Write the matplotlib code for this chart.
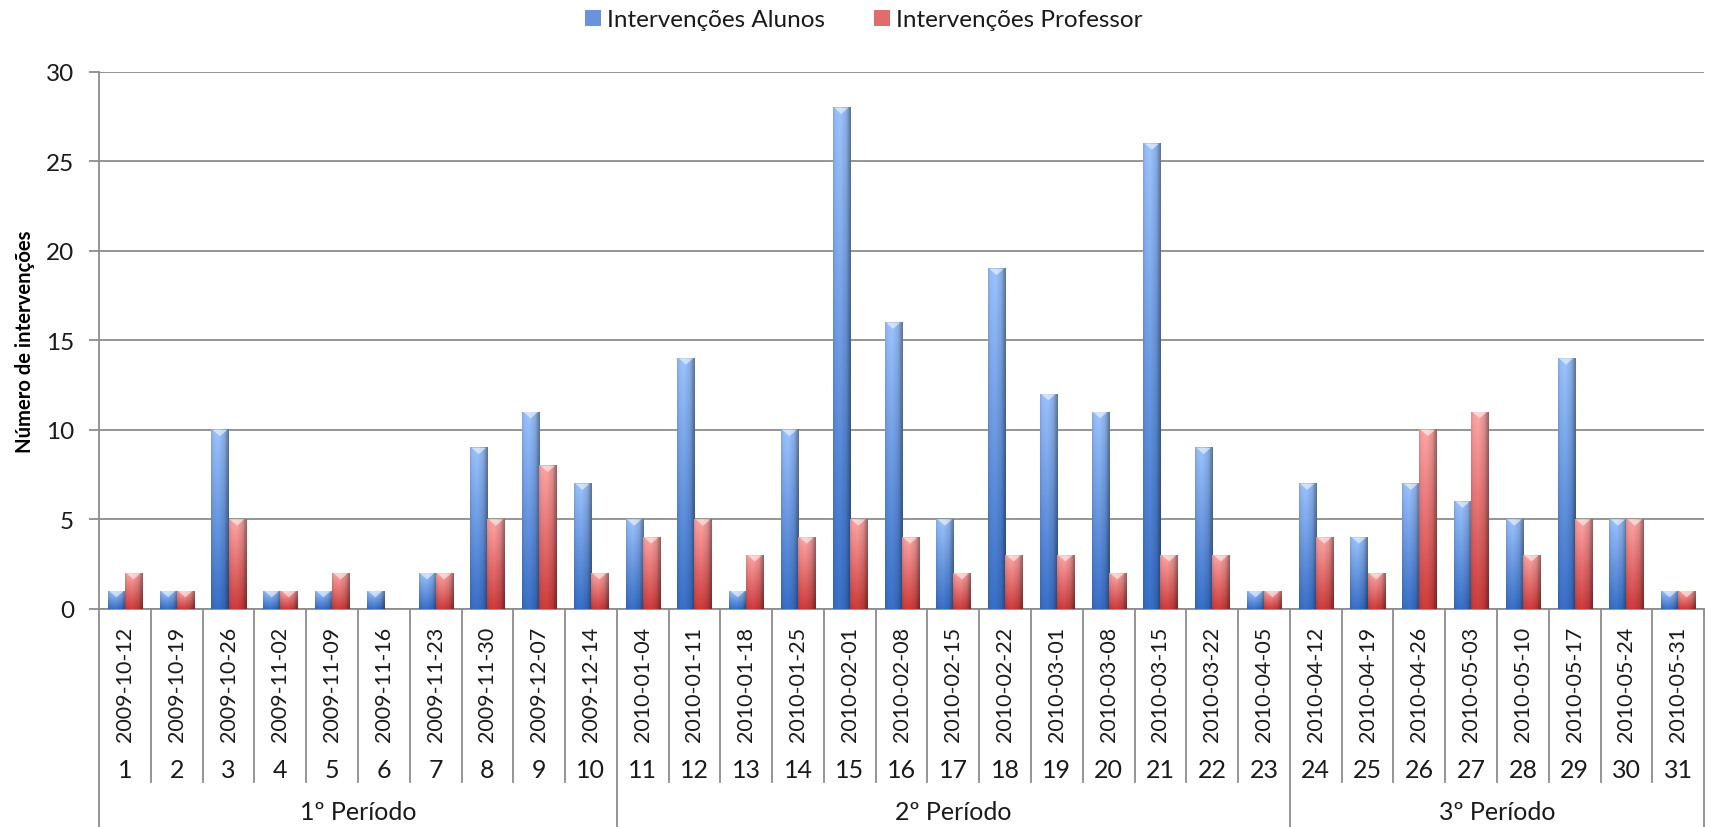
import matplotlib
matplotlib.use("Agg")
import matplotlib.pyplot as plt
from matplotlib.patches import Rectangle, Polygon
import matplotlib.transforms as mtrans
import numpy as np

# --- data ---
dates = ["2009-10-12", "2009-10-19", "2009-10-26", "2009-11-02", "2009-11-09",
         "2009-11-16", "2009-11-23", "2009-11-30", "2009-12-07", "2009-12-14",
         "2010-01-04", "2010-01-11", "2010-01-18", "2010-01-25", "2010-02-01",
         "2010-02-08", "2010-02-15", "2010-02-22", "2010-03-01", "2010-03-08",
         "2010-03-15", "2010-03-22", "2010-04-05", "2010-04-12", "2010-04-19",
         "2010-04-26", "2010-05-03", "2010-05-10", "2010-05-17", "2010-05-24",
         "2010-05-31"]
weeks = list(range(1, 32))
alunos = [1, 1, 10, 1, 1, 1, 2, 9, 11, 7, 5, 14, 1, 10, 28, 16, 5, 19, 12, 11,
          26, 9, 1, 7, 4, 7, 6, 5, 14, 5, 1]
professor = [2, 1, 5, 1, 2, 0, 2, 5, 8, 2, 4, 5, 3, 4, 5, 4, 2, 3, 3, 2,
             3, 3, 1, 4, 2, 10, 11, 3, 5, 5, 1]
periods = ["1º Período", "2º Período", "3º Período"]
period_sizes = [10, 13, 8]

FONT = "Lato"
GRID = "#8c8c8c"
TXT = "#1a1a1a"
plt.rcParams["font.family"] = [FONT, "DejaVu Sans"]

BLUE_TOP, BLUE_BOT = np.array([150, 188, 245]) / 255, np.array([55, 108, 194]) / 255
RED_TOP, RED_BOT = np.array([246, 160, 160]) / 255, np.array([200, 58, 58]) / 255


def shade(top, bot, nx=24, ny=80):
    y = np.linspace(0, 1, ny)[:, None]
    col = top[None, :] * (1 - y) + bot[None, :] * y
    x = np.linspace(0, 1, nx)
    hf = np.interp(x, [0, 0.12, 0.4, 0.75, 1.0], [0.9, 1.0, 1.04, 0.92, 0.62])
    return np.clip(col[:, None, :] * hf[None, :, None], 0, 1)


fig = plt.figure(figsize=(17.17, 8.28), dpi=100)
ax = fig.add_axes([0.0577, 0.2633, 0.9348, 0.6486])

x = np.arange(len(dates))
w = 0.33
b1 = ax.bar(x - w / 2, alunos, w, color=BLUE_BOT, zorder=2)
b2 = ax.bar(x + w / 2, professor, w, color=RED_BOT, zorder=2)

tri = 0.35
for bars, (top, bot) in ((b1, (BLUE_TOP, BLUE_BOT)), (b2, (RED_TOP, RED_BOT))):
    img = shade(top, bot)
    for p in bars:
        x0, h, bw = p.get_x(), p.get_height(), p.get_width()
        if h <= 0:
            continue
        ax.imshow(img, extent=(x0, x0 + bw, 0, h), origin="upper",
                  aspect="auto", interpolation="bilinear", zorder=3)
        t = min(tri, h * 0.5)
        ax.add_patch(Polygon([(x0 + bw * 0.08, h), (x0 + bw * 0.92, h),
                              (x0 + bw / 2, h - t)], closed=True,
                             facecolor="white", alpha=0.55, lw=0, zorder=4))

ax.set_xlim(-0.5, len(dates) - 0.5)
ax.set_ylim(0, 30)
ax.set_yticks(range(0, 31, 5))
ax.yaxis.grid(True, color=GRID, lw=1.3, zorder=0)
ax.set_axisbelow(True)
ax.set_xticks([])
ax.tick_params(axis="y", direction="out", length=7, width=1.3, color=GRID,
               labelsize=17.5, labelcolor=TXT, pad=11)
for s in ("top", "right"):
    ax.spines[s].set_visible(False)
for s in ("left", "bottom"):
    ax.spines[s].set_color(GRID)
    ax.spines[s].set_linewidth(1.3)
ax.set_ylabel("Número de intervenções", fontsize=14.6, fontweight="bold",
              labelpad=8, color="black")

# multi-level category axis
tr = mtrans.blended_transform_factory(ax.transData, ax.transAxes)
for i, (d, n) in enumerate(zip(dates, weeks)):
    ax.text(i, -0.032, d, rotation=90, ha="center", va="top", fontsize=15.5,
            transform=tr, color=TXT)
    ax.text(i, -0.298, str(n), ha="center", va="center", fontsize=18,
            transform=tr, color=TXT)

bounds = np.cumsum([0] + period_sizes) - 0.5
for i in range(len(dates) + 1):
    xb = i - 0.5
    low = -0.41 if xb in bounds else -0.322
    ax.plot([xb, xb], [0, low], transform=tr, color=GRID, lw=1.3,
            clip_on=False)
for k, name in enumerate(periods):
    ax.text((bounds[k] + bounds[k + 1]) / 2, -0.378, name, ha="center",
            va="center", fontsize=18, transform=tr, color=TXT)

handles = [Rectangle((0, 0), 1, 1, facecolor=BLUE_TOP * 0.5 + BLUE_BOT * 0.5),
           Rectangle((0, 0), 1, 1, facecolor=RED_TOP * 0.5 + RED_BOT * 0.5)]
fig.legend(handles, ["Intervenções Alunos", "Intervenções Professor"],
           loc="center", bbox_to_anchor=(0.503, 0.975), ncol=2, frameon=False,
           fontsize=17.5, handlelength=0.65, handleheight=0.65,
           handletextpad=0.25, columnspacing=2.0, labelcolor=TXT)

fig.savefig("out.png", dpi=100)
